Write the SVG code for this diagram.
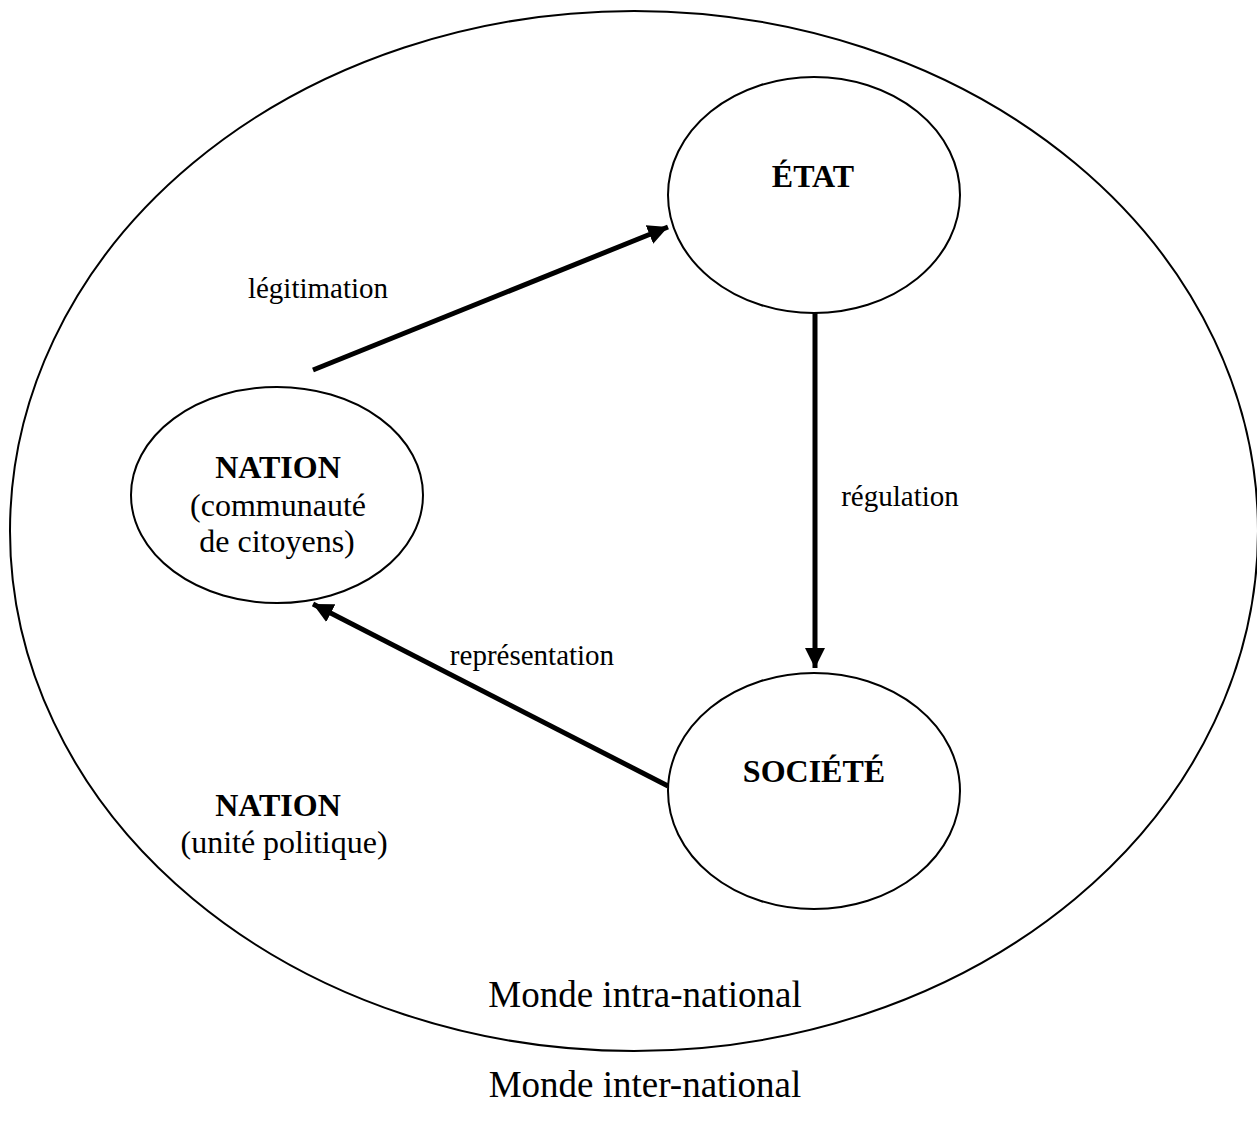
<svg xmlns="http://www.w3.org/2000/svg" width="1257" height="1122" viewBox="0 0 1257 1122">
<style>
.e{fill:none;stroke:#000;stroke-width:2}
.t{font-family:"Liberation Serif",serif;fill:#000;text-anchor:middle}
.b{font-weight:bold;font-size:32px}
.n{font-size:32px}
.l{font-size:29px}
.m{font-size:37px}
.c{stroke:#000;stroke-width:5;fill:none}
</style>
<defs>
<marker id="ah" markerUnits="userSpaceOnUse" markerWidth="22" markerHeight="20" refX="20" refY="10" orient="auto">
<path d="M0,0 L20,10 L0,20 Z" fill="#000"/>
</marker>
</defs>
<rect width="1257" height="1122" fill="#fff"/>
<g id="monde">
<ellipse class="e" cx="634" cy="531" rx="624" ry="520"/>
<text class="t m" x="645" y="1007">Monde intra-national</text>
</g>
<g id="etat">
<ellipse class="e" cx="814" cy="195" rx="146" ry="118"/>
<text class="t b" x="813" y="187">ÉTAT</text>
</g>
<g id="nation-communaute">
<ellipse class="e" cx="277" cy="495" rx="146" ry="108"/>
<text class="t b" x="278" y="478">NATION</text>
<text class="t n" x="278" y="516">(communauté</text>
<text class="t n" x="277" y="552">de citoyens)</text>
</g>
<g id="societe">
<ellipse class="e" cx="814" cy="791" rx="146" ry="118"/>
<text class="t b" x="814" y="782">SOCIÉTÉ</text>
</g>
<g id="nation-unite">
<text class="t b" x="278" y="816">NATION</text>
<text class="t n" x="284" y="853">(unité politique)</text>
</g>
<g id="inter">
<text class="t m" x="645" y="1097">Monde inter-national</text>
</g>
<g id="connectors">
<line class="c" x1="313" y1="370" x2="668" y2="227" marker-end="url(#ah)"/>
<line class="c" x1="815" y1="312" x2="815" y2="668" marker-end="url(#ah)"/>
<line class="c" x1="668" y1="786" x2="313" y2="604" marker-end="url(#ah)"/>
<text class="t l" x="318" y="298">légitimation</text>
<text class="t l" x="900" y="506">régulation</text>
<text class="t l" x="532" y="665">représentation</text>
</g>
</svg>
